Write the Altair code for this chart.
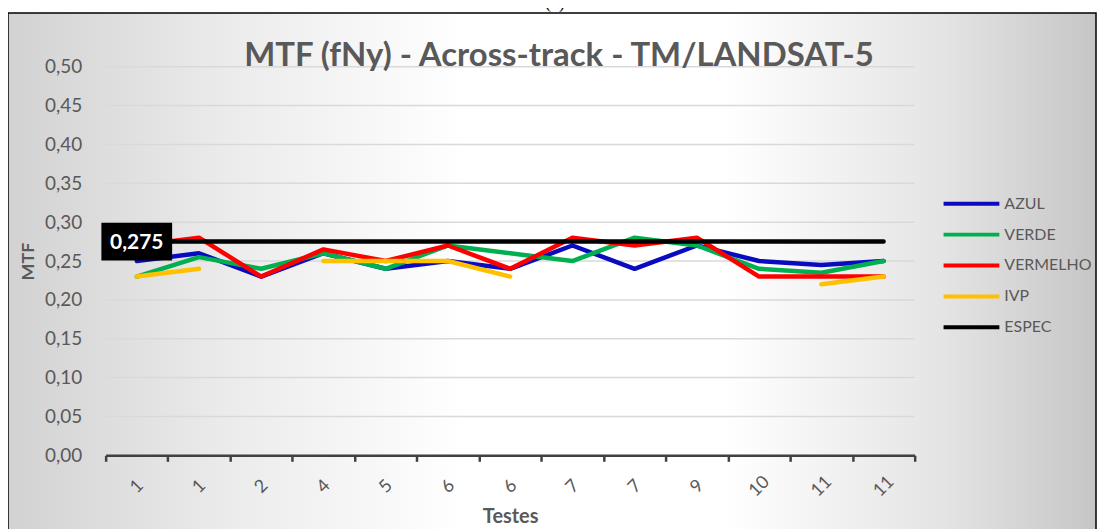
import altair as alt
import pandas as pd

# ---------------- data ----------------
X_LABELS = ["1", "1", "2", "4", "5", "6", "6", "7", "7", "9", "10", "11", "11"]
AZUL = [0.25, 0.26, 0.23, 0.26, 0.24, 0.25, 0.24, 0.27, 0.24, 0.27, 0.25, 0.245, 0.25]
VERDE = [0.23, 0.255, 0.24, 0.26, 0.24, 0.27, 0.26, 0.25, 0.28, 0.27, 0.24, 0.235, 0.25]
VERMELHO = [0.27, 0.28, 0.23, 0.265, 0.25, 0.27, 0.24, 0.28, 0.27, 0.28, 0.23, 0.23, 0.23]
IVP = [0.23, 0.24, None, 0.25, 0.25, 0.25, 0.23, None, None, None, None, 0.22, 0.23]
ESPEC_VALUE = 0.275
ESPEC = [ESPEC_VALUE] * len(X_LABELS)

SERIES = ["AZUL", "VERDE", "VERMELHO", "IVP", "ESPEC"]
COLORS = ["#0a0ac0", "#00b050", "#ff0000", "#ffc000", "#000000"]
Y_TICKS = [0.0, 0.05, 0.10, 0.15, 0.20, 0.25, 0.30, 0.35, 0.40, 0.45, 0.50]
GRID = Y_TICKS[1:]

TITLE = "MTF (fNy) - Across-track - TM/LANDSAT-5"
X_TITLE = "Testes"
Y_TITLE = "MTF"
TAG = "(a)"

FONT = "Lato"
GREY = "#595959"

W, H = 812, 390

rows = []
for name, vals in zip(SERIES, [AZUL, VERDE, VERMELHO, IVP, ESPEC]):
    for i, v in enumerate(vals):
        rows.append({"idx": i, "serie": name, "valor": v})
df = pd.DataFrame(rows)

grid_df = pd.DataFrame({"g": GRID})
label_df = pd.DataFrame({"idx": [0], "valor": [ESPEC_VALUE],
                         "txt": [f"{ESPEC_VALUE:.3f}".replace(".", ",")]})
one = pd.DataFrame({"a": [0]})

labels_js = "[" + ",".join(f"'{l}'" for l in X_LABELS) + "]"

x_scale = alt.Scale(type="band", domain=list(range(len(X_LABELS))), paddingInner=0, paddingOuter=0)
x_axis = alt.Axis(
    title=X_TITLE, titleFont=FONT, titleFontSize=20, titleFontWeight="bold", titleColor=GREY,
    titleBaseline="alphabetic", titleY=67,
    labelExpr=f"{labels_js}[datum.value]", labelAngle=315, labelAlign="center",
    labelBaseline="middle", labelPadding=25, labelFont=FONT, labelFontSize=18, labelColor=GREY,
    labelOverlap=False,
    tickBand="extent", tickSize=6, tickWidth=2.5, tickColor="#404040",
    domainColor="#404040", domainWidth=2.5, grid=False, zindex=1,
)
y_scale = alt.Scale(domain=[0, 0.5], nice=False, zero=True)
y_axis = alt.Axis(
    title=Y_TITLE, titleFont=FONT, titleFontSize=18, titleFontWeight="bold", titleColor=GREY,
    titleX=-77, titleY=H / 2, titleAlign="center", titleBaseline="middle", titleAngle=270,
    values=Y_TICKS, labelExpr="replace(format(datum.value, '.2f'), '.', ',')",
    labelFont=FONT, labelFontSize=19, labelColor=GREY, labelPadding=24, labelOverlap=False,
    domain=False, ticks=False, grid=False, zindex=1,
)

# background with gradient + frame
bg = alt.Chart(one).mark_rect(
    fill=alt.LinearGradient(
        gradient="linear", x1=0, x2=1, y1=0, y2=0,
        stops=[
            alt.GradientStop(color="#d2d2d2", offset=0),
            alt.GradientStop(color="#ebebeb", offset=0.2),
            alt.GradientStop(color="#ffffff", offset=0.42),
            alt.GradientStop(color="#ffffff", offset=0.66),
            alt.GradientStop(color="#e4e4e4", offset=0.86),
            alt.GradientStop(color="#c6c6c6", offset=1),
        ],
    ),
    stroke="#000000", strokeWidth=1.5,
).encode(x=alt.value(-98), x2=alt.value(994), y=alt.value(-54), y2=alt.value(470))

grid = alt.Chart(grid_df).mark_rule(color="#d9d9d9", strokeWidth=1.5).encode(
    y=alt.Y("g:Q", scale=y_scale, axis=y_axis)
)

lines = alt.Chart(df).mark_line(strokeWidth=4.5, strokeCap="round", strokeJoin="round").encode(
    x=alt.X("idx:O", scale=x_scale, axis=x_axis),
    y=alt.Y("valor:Q", scale=y_scale, axis=y_axis),
    color=alt.Color(
        "serie:N",
        scale=alt.Scale(domain=SERIES, range=COLORS),
        sort=SERIES,
        legend=alt.Legend(
            title=None, orient="none", legendX=839, legendY=122, padding=0,
            symbolType="stroke", symbolStrokeWidth=4, symbolSize=3136,
            labelFont=FONT, labelFontSize=16, labelColor=GREY, labelOffset=3,
            rowPadding=0, clipHeight=31, labelLimit=200,
        ),
    ),
    order=alt.Order("idx:O"),
)

box = alt.Chart(label_df).mark_point(
    shape="M-1,-0.535L1,-0.535L1,0.535L-1,0.535Z", filled=True, color="#000000", opacity=1, size=5041
).encode(x=alt.X("idx:O", scale=x_scale, axis=x_axis),
         y=alt.Y("valor:Q", scale=y_scale, axis=y_axis))

txt = alt.Chart(label_df).mark_text(
    font=FONT, fontSize=21, fontWeight="bold", color="#ffffff", baseline="middle", align="center", dy=1
).encode(x=alt.X("idx:O", scale=x_scale, axis=x_axis),
         y=alt.Y("valor:Q", scale=y_scale, axis=y_axis), text="txt:N")

title = alt.Chart(one).mark_text(
    text=TITLE, font=FONT, fontSize=33, fontWeight="bold", color=GREY,
    baseline="alphabetic", align="center",
).encode(x=alt.value(455), y=alt.value(-1))

tag = alt.Chart(one).mark_text(
    text=TAG, font="Liberation Serif", fontSize=18, baseline="bottom", color="#000000"
).encode(x=alt.value(451), y=alt.value(-55))

chart = alt.layer(bg, grid, lines, box, txt, title, tag).properties(
    width=W, height=H,
    autosize=alt.AutoSizeParams(type="none"),
    padding={"left": 98, "top": 58, "right": 184, "bottom": 73},
).configure_view(stroke=None).resolve_scale(x="shared", y="shared")

chart.save("out.html", embed_options={"renderer": "svg", "actions": False})
